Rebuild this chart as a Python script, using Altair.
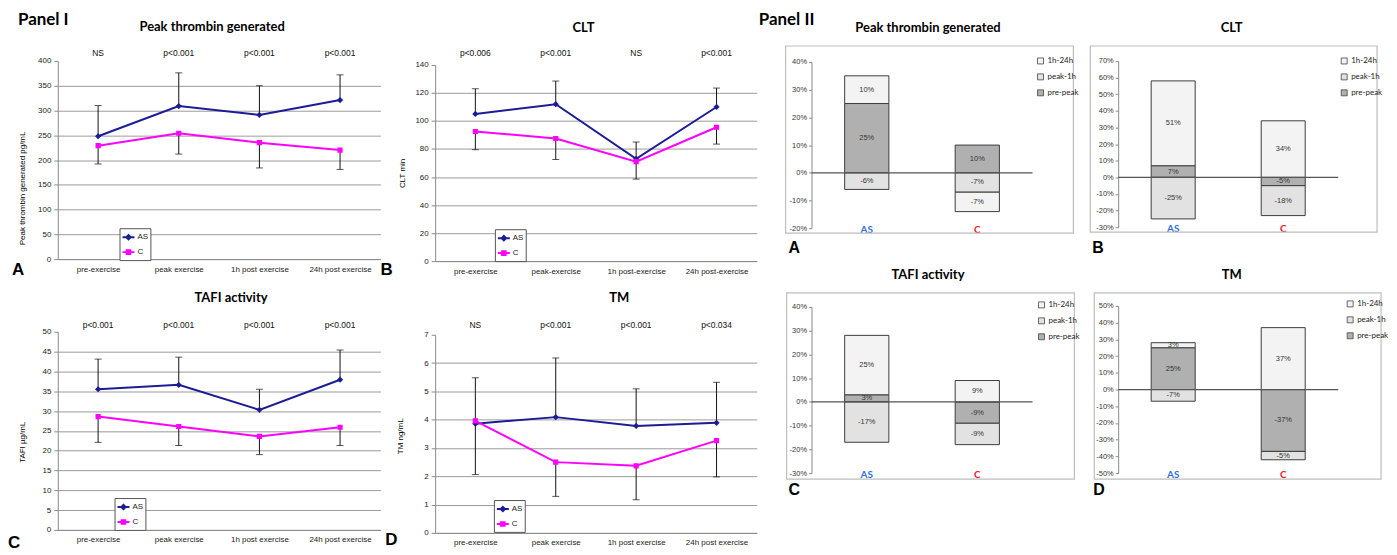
import altair as alt
import pandas as pd

# ---------------- data ----------------
stages = ["pre-exercise", "peak exercise", "1h post exercise", "24h post exercise"]
stages_clt = ["pre-exercise", "peak-exercise", "1h post-exercise", "24h post-exercise"]
groups = ["AS", "C"]

thr_as = [248, 309, 291, 321]
thr_as_upper = [310, 376, 350, 372]
thr_c = [229, 254, 235, 220]
thr_c_lower = [192, 212, 184, 181]
thr_p = ["NS", "p<0.001", "p<0.001", "p<0.001"]

clt_as = [105, 112, 73, 110]
clt_as_upper = [123, 128.5, 85, 123.5]
clt_c = [92.5, 87.5, 71, 95.5]
clt_c_lower = [79.5, 72.5, 58.5, 83.5]
clt_p = ["p<0.006", "p<0.001", "NS", "p<0.001"]

tafi_as = [35.5, 36.6, 30.3, 37.9]
tafi_as_upper = [43.1, 43.6, 35.5, 45.4]
tafi_c = [28.6, 26.1, 23.6, 25.9]
tafi_c_lower = [22.1, 21.3, 19.0, 21.3]
tafi_p = ["p<0.001", "p<0.001", "p<0.001", "p<0.001"]

tm_as = [3.86, 4.09, 3.78, 3.89]
tm_as_upper = [5.48, 6.18, 5.09, 5.32]
tm_c = [3.96, 2.50, 2.37, 3.26]
tm_c_lower = [2.06, 1.29, 1.17, 1.98]
tm_p = ["NS", "p<0.001", "p<0.001", "p<0.034"]

segments = ["pre-peak", "peak-1h", "1h-24h"]
legend_order = ["1h-24h", "peak-1h", "pre-peak"]
thr_change_as = [25, -6, 10]
thr_change_c = [10, -7, -7]
clt_change_as = [7, -25, 51]
clt_change_c = [-5, -18, 34]
tafi_change_as = [3, -17, 25]
tafi_change_c = [-9, -9, 9]
tm_change_as = [25, -7, 3]
tm_change_c = [-37, -5, 37]

# ---------------- style ----------------
NAVY = "#1c1c96"
MAG = "#ff00ff"
GRID = "#9a9a9a"
AX = "#8a8a8a"
SANS = "Liberation Sans"
TFONT = "Lato"
DIAMOND = "M-1,0H1M0,-0.36L0.36,0L0,0.36L-0.36,0Z"
SQUARE = "M-1,0H1M-0.3,-0.3H0.3V0.3H-0.3Z"
SEG_COLORS = ["#f3f3f3", "#e2e2e2", "#b0b0b0"]


def label(text, x, y, size, weight="normal", font=SANS, align="center", angle=0):
    return alt.Chart(pd.DataFrame({"t": [text]})).mark_text(
        fontSize=size, fontWeight=weight, font=font, align=align,
        baseline="middle", angle=angle, color="#000"
    ).encode(x=alt.value(x), y=alt.value(y), text="t:N")


def line_panel(cats, as_v, as_up, c_v, c_lo, pv, ymax, ystep, W, H, top,
               title, tpos, ytitle, ypos, letter, lpos, ptop, legpos, extra=()):
    df = pd.DataFrame({
        "stage": cats + cats,
        "idx": list(range(4)) * 2,
        "grp": ["AS"] * 4 + ["C"] * 4,
        "val": as_v + c_v,
        "bar": as_up + c_lo,
    })
    pdf = pd.DataFrame({"stage": cats, "p": pv})
    ticks = [round(i * ystep, 6) for i in range(int(round(ymax / ystep)) + 1)]
    xenc = alt.X("stage:N", sort=cats, scale=alt.Scale(type="point", padding=0.5),
                 axis=alt.Axis(title=None, labelAngle=0, ticks=False, grid=False,
                               domainColor=AX, labelFontSize=8, labelColor="#222",
                               labelPadding=6, labelFont=SANS))
    yscale = alt.Scale(domain=[0, ymax], range=[H, top], nice=False, zero=True)
    yaxis = alt.Axis(title=None, values=ticks, tickCount=50, format="d", grid=True,
                     gridColor={"condition": {"test": f"datum.value >= {ymax}", "value": "transparent"},
                                "value": GRID},
                     domainColor=AX, tickColor=AX, tickSize=4, labelFontSize=8,
                     labelColor="#222", labelPadding=3, labelFont=SANS)
    cscale = alt.Scale(domain=groups, range=[NAVY, MAG])
    sscale = alt.Scale(domain=groups, range=[DIAMOND, SQUARE])
    leg = alt.Legend(title=None, orient="none", legendX=legpos[0], legendY=legpos[1],
                     strokeColor="#555", fillColor="white", padding=2, rowPadding=1,
                     labelFontSize=8, labelColor="#222", labelFont=SANS,
                     symbolSize=144, symbolStrokeWidth=2, labelOffset=2)
    base = alt.Chart(df)
    err = base.mark_rule(color="#111", strokeWidth=1).encode(
        x=xenc, y=alt.Y("val:Q", scale=yscale, axis=yaxis), y2="bar:Q")
    cap = base.mark_tick(color="#111", thickness=1, size=7).encode(
        x=xenc, y=alt.Y("bar:Q", scale=yscale))
    line = base.mark_line(strokeWidth=2).encode(
        x=xenc, y=alt.Y("val:Q", scale=yscale),
        color=alt.Color("grp:N", scale=cscale, legend=leg),
        order=alt.Order("idx:Q"))
    pts = base.mark_point(filled=True, size=300, opacity=1).encode(
        x=xenc, y=alt.Y("val:Q", scale=yscale),
        color=alt.Color("grp:N", scale=cscale, legend=leg),
        shape=alt.Shape("grp:N", scale=sscale, legend=leg))
    pl = alt.Chart(pdf).mark_text(fontSize=8.5, font=SANS, color="#111").encode(
        x=xenc, y=alt.value(ptop), text="p:N")
    layers = [err, cap, line, pts, pl,
              label(title, tpos[0], tpos[1], 13, "bold", TFONT),
              label(ytitle, ypos[0], ypos[1], 8, angle=270),
              label(letter, lpos[0], lpos[1], 17, "bold", SANS, align="left")]
    layers += list(extra)
    return alt.layer(*layers).properties(width=W, height=H)


def bar_panel(as_c, c_c, lo, hi, W, Wb, H, top, title, tpos, letter, lpos, frame, legpos, extra=()):
    df = pd.DataFrame({
        "grp": ["AS"] * 3 + ["C"] * 3,
        "seg": segments * 2,
        "ord": [0, 1, 2] * 2,
        "val": as_c + c_c,
    })
    base = alt.Chart(df).transform_stack(
        stack="val", groupby=["grp"], as_=["y0", "y1"],
        sort=[alt.SortField("ord", order="ascending")]
    ).transform_calculate(mid="(datum.y0 + datum.y1) / 2", lab="datum.val + '%'")
    xenc = alt.X("grp:N", sort=groups,
                 scale=alt.Scale(type="band", paddingInner=0.6, paddingOuter=0.3, range=[0, Wb]),
                 axis=alt.Axis(title=None, labelAngle=0, ticks=False, domain=False, grid=False,
                               labelFontSize=10, labelFontWeight="bold", labelFont=TFONT,
                               labelColor={"condition": {"test": "datum.value == 'AS'", "value": "#2f6fe0"},
                                           "value": "#f0202a"},
                               labelPadding=1, labelBaseline="middle"))
    yscale = alt.Scale(domain=[lo, hi], range=[H, top], nice=False, zero=False)
    yaxis = alt.Axis(title=None, values=list(range(lo, hi + 1, 10)), tickCount=50,
                     labelExpr="datum.value + '%'",
                     grid=False, domainColor=AX, tickColor=AX, tickSize=3, labelFontSize=7.5,
                     labelColor="#333", labelPadding=2, labelFont=SANS)
    fr = alt.Chart(pd.DataFrame({"f": [0]})).mark_rect(
        fill="transparent", stroke="#bdbdbd", strokeWidth=1.2
    ).encode(x=alt.value(frame[0]), x2=alt.value(frame[1]), y=alt.value(frame[2]), y2=alt.value(frame[3]))
    leg = alt.Legend(title=None, orient="none", legendX=legpos[0], legendY=legpos[1],
                     symbolType="square", symbolSize=36, symbolStrokeColor="#444",
                     symbolStrokeWidth=0.8, labelFontSize=8, labelFont=TFONT, labelColor="#222",
                     rowPadding=6, labelOffset=3, padding=0)
    bars = base.mark_bar(stroke="#3c3c3c", strokeWidth=1).encode(
        x=xenc, y=alt.Y("y0:Q", scale=yscale, axis=yaxis), y2="y1:Q",
        fill=alt.Fill("seg:N", scale=alt.Scale(domain=legend_order, range=SEG_COLORS), legend=leg))
    zero = alt.Chart(pd.DataFrame({"z": [0]})).mark_rule(color="#555", strokeWidth=1.3).encode(
        y=alt.Y("z:Q", scale=yscale), x=alt.value(0), x2=alt.value(Wb))
    txt = base.mark_text(fontSize=7.5, font=SANS, color="#333").encode(
        x=xenc, y=alt.Y("mid:Q", scale=yscale), text="lab:N")
    layers = [fr, bars, zero, txt,
              label(title, tpos[0], tpos[1], 13, "bold", TFONT),
              label(letter, lpos[0], lpos[1], 16, "bold", SANS, align="left")]
    layers += list(extra)
    return alt.layer(*layers).properties(width=W, height=H)


IA = line_panel(stages, thr_as, thr_as_upper, thr_c, thr_c_lower, thr_p, 400, 50,
                324, 199, 0, "Peak thrombin generated", (155, -34),
                "Peak thrombin generated  pg/mL", (-35, 128), "A", (-46, 210), -8, (62, 168),
                extra=[label("Panel I", -40, -41, 17, "bold", TFONT, align="left")])
IB = line_panel(stages_clt, clt_as, clt_as_upper, clt_c, clt_c_lower, clt_p, 140, 20,
                323, 201, 4, "CLT", (149, -33), "CLT min", (-32, 113), "B", (-55, 210), -8, (60, 169))
IC = line_panel(stages, tafi_as, tafi_as_upper, tafi_c, tafi_c_lower, tafi_p, 50, 5,
                324, 225, 26, "TAFI activity", (174, -8), "TAFI µg/mL", (-35, 137), "C", (-50, 238), 19, (57, 193))
ID = line_panel(stages, tm_as, tm_as_upper, tm_c, tm_c_lower, tm_p, 7, 1,
                323, 228, 29, "TM", (185, -8), "TM ng/mL", (-34, 131), "D", (-50, 235), 19, (59, 195))

IIA = bar_panel(thr_change_as, thr_change_c, -20, 40, 253, 222, 168, 1,
                "Peak thrombin generated", (117, -33), "A", (-23, 188), (-26, 263, -15, 173), (226, -4),
                extra=[label("Panel II", -53, -41, 17, "bold", TFONT, align="left")])
IIB = bar_panel(clt_change_as, clt_change_c, -30, 70, 221, 221, 167, 0,
                "CLT", (114, -33), "B", (-26, 188), (-28, 260, -15, 172), (223, -4))
IIC = bar_panel(tafi_change_as, tafi_change_c, -30, 40, 253, 222, 168, 1,
                "TAFI activity", (117, -31), "C", (-23, 185), (-25, 264, -13, 174), (227, -5))
IID = bar_panel(tm_change_as, tm_change_c, -50, 50, 221, 221, 168, 0,
                "TM", (114, -31), "D", (-25, 185), (-24, 264, -13, 174), (229, -6))

chart = alt.concat(
    IA, IB, IIA, IIB, IC, ID, IIC, IID,
    columns=4, spacing={"row": 45, "column": 55}, align="each", bounds="flush"
).resolve_scale(
    color="independent", fill="independent", shape="independent"
).resolve_legend(
    color="independent", fill="independent", shape="independent"
).properties(
    padding={"left": 0, "top": 2, "right": 0, "bottom": 0}
).configure(font=SANS).configure_view(stroke=None)

chart.save("out.html", embed_options={"renderer": "svg", "actions": False})
